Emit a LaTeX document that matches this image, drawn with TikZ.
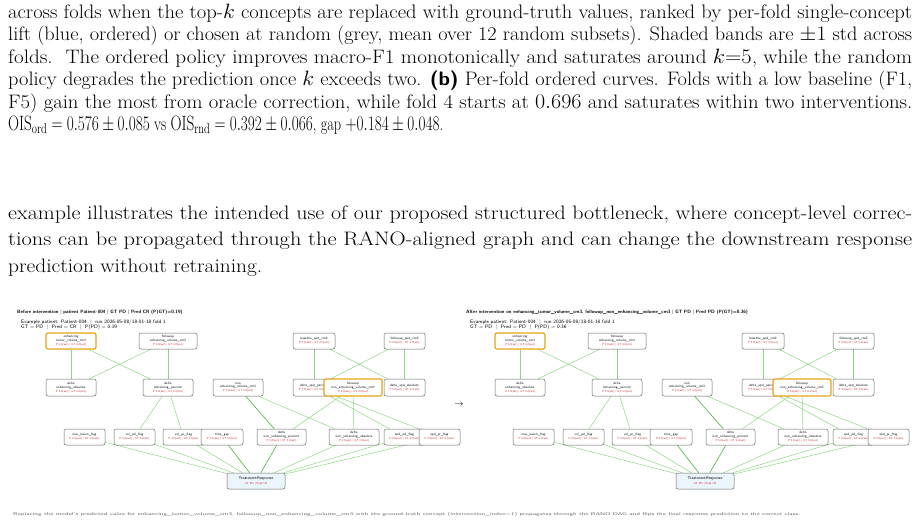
\documentclass[tikz,border=0pt]{standalone}
\usepackage{xcolor,graphicx}
\definecolor{edgeg}{RGB}{140,215,130}
\definecolor{edged}{RGB}{70,180,60}
\definecolor{hl}{RGB}{230,165,20}
\definecolor{valred}{RGB}{200,40,40}
\definecolor{respbg}{RGB}{235,245,252}
\tikzset{
  bodyline/.style={anchor=base west,inner sep=0pt,font=\fontsize{19.5}{21}\selectfont},
  cbox/.style={draw=black!60,rounded corners=2pt,line width=0.5pt,align=center,inner sep=0pt,font=\sffamily\fontsize{3.3}{3.6}\selectfont,fill=white},
  hlbox/.style={cbox,draw=hl,line width=1.2pt},
  resp/.style={cbox,fill=respbg,font=\sffamily\fontsize{4}{4.6}\selectfont},
  eg/.style={draw=edgeg,line width=0.5pt},
  ed/.style={draw=edged,line width=0.6pt},
  ptitle/.style={anchor=west,inner sep=0pt,font=\sffamily\fontsize{4.7}{5}\selectfont\bfseries},
  psub/.style={anchor=north west,inner sep=0pt,align=left,font=\sffamily\fontsize{5}{5}\selectfont}
}
\newcommand\JL[1]{\resizebox{904pt}{\height}{#1}}
\newcommand\Vt{\\[0.6pt]\textcolor{valred}{\fontsize{2.8}{3}\selectfont P 0.0(est) \textbar{} GT 0.0(est)}}
\newcommand\drawpanel{%
  \node[hlbox,minimum width=50pt,minimum height=16pt] (A) at (71,341) {enhancing\\tumor\_volume\_cm3\Vt};
  \node[cbox,minimum width=58pt,minimum height=16pt] (B) at (168,341) {followup\\enhancing\_volume\_cm3\Vt};
  \node[cbox,minimum width=42pt,minimum height=16pt] (C) at (314,341) {baseline\_spd\_cm2\Vt};
  \node[cbox,minimum width=41pt,minimum height=16pt] (D) at (404.5,341) {followup\_spd\_cm2\Vt};
  \node[cbox,minimum width=50pt,minimum height=17pt] (E) at (71,387.5) {delta\\enhancing\_absolute\Vt};
  \node[cbox,minimum width=50pt,minimum height=17pt] (F) at (168,387.5) {delta\\enhancing\_percent\Vt};
  \node[cbox,minimum width=50pt,minimum height=17pt] (G) at (238,387.5) {non\\enhancing\_volume\_cm3\Vt};
  \node[cbox,minimum width=42pt,minimum height=17pt] (H) at (314,387.5) {delta\_spd\_percent\Vt};
  \node[cbox,minimum width=41pt,minimum height=17pt] (J) at (404.5,387.5) {delta\_spd\_absolute\Vt};
  \node[hlbox,minimum width=58pt,minimum height=17pt] (I) at (353,387.5) {followup\\non\_enhancing\_volume\_cm3\Vt};
  \node[cbox,minimum width=41pt,minimum height=16pt] (K) at (84.5,437) {new\_lesion\_flag\Vt};
  \node[cbox,minimum width=41pt,minimum height=16pt] (L) at (134.5,437) {vol\_pd\_flag\Vt};
  \node[cbox,minimum width=41pt,minimum height=16pt] (M) at (183.5,437) {vol\_pr\_flag\Vt};
  \node[cbox,minimum width=42pt,minimum height=16pt] (N) at (222,437) {time\_gap\Vt};
  \node[cbox,minimum width=49pt,minimum height=16pt] (O) at (281.5,437) {delta\\non\_enhancing\_percent\Vt};
  \node[cbox,minimum width=50pt,minimum height=16pt] (P) at (354,437) {delta\\non\_enhancing\_absolute\Vt};
  \node[cbox,minimum width=41pt,minimum height=16pt] (Q) at (404.5,437) {spd\_pd\_flag\Vt};
  \node[cbox,minimum width=41pt,minimum height=16pt] (R) at (439.5,437) {spd\_pr\_flag\Vt};
  \node[resp,minimum width=58pt,minimum height=16pt] (S) at (256,481) {TreatmentResponse\\[0.6pt]\textcolor{valred}{\fontsize{2.8}{3}\selectfont GT PD \textbar{} Pred CR}};
  \begin{scope}[on background layer]
  \draw[eg] (A) -- (E); \draw[eg] (A) -- (F); \draw[eg] (B) -- (E); \draw[eg] (B) -- (F);
  \draw[eg] (C) -- (H); \draw[eg] (C) -- (J); \draw[eg] (D) -- (J); \draw[eg] (D) -- (H);
  \draw[eg] (F) -- (L); \draw[eg] (F) -- (M); \draw[ed] (G) -- (O); \draw[eg] (G) -- (P);
  \draw[eg] (I) -- (O); \draw[eg] (I) -- (P); \draw[eg] (H) -- (Q); \draw[eg] (H) -- (R);
  \foreach \n in {K,L,M,P,Q,R} {\draw[eg] (\n) -- (S);}
  \draw[ed] (N) -- (S); \draw[ed] (O) -- (S);
  \end{scope}
}
\usetikzlibrary{backgrounds}
\begin{document}
\begin{tikzpicture}[x=1pt,y=-1pt]
\useasboundingbox (0,0) rectangle (919,523);
\node[bodyline] (t1) at (8,18) {\JL{across folds when the top-$k$ concepts are replaced with ground-truth values, ranked by per-fold single-concept}};
\node[bodyline] (t2) at (8,40.5) {\JL{lift (blue, ordered) or chosen at random (grey, mean over 12 random subsets). Shaded bands are $\pm1$ std across}};
\node[bodyline] (t3) at (8,63) {\JL{folds.\ \ The ordered policy improves macro-F1 monotonically and saturates around $k{=}5$, while the random}};
\node[bodyline] (t4) at (8,85.5) {\JL{policy degrades the prediction once $k$ exceeds two. \textsf{\textbf{(b)}} Per-fold ordered curves. Folds with a low baseline (F1,}};
\node[bodyline] (t5) at (8,108) {\JL{F5) gain the most from oracle correction, while fold 4 starts at $0.696$ and saturates within two interventions.}};
\node[bodyline] (t6) at (8,130.5) {\resizebox{435pt}{\height}{$\mathrm{OIS}_{\mathrm{ord}} = 0.576 \pm 0.085$ vs $\mathrm{OIS}_{\mathrm{rnd}} = 0.392\pm0.066$, gap $+0.184\pm0.048$.}};
\node[bodyline] (u1) at (8,219) {\JL{example illustrates the intended use of our proposed structured bottleneck, where concept-level correc-}};
\node[bodyline] (u2) at (8,245.5) {\JL{tions can be propagated through the RANO-aligned graph and can change the downstream response}};
\node[bodyline] (u3) at (8,272) {\resizebox{254pt}{\height}{prediction without retraining.}};
\node[ptitle] (lt) at (17,312) {Before intervention | patient Patient-004 | GT PD | Pred CR (P(GT)=0.19)};
\node[psub] (ls) at (21,320) {Example patient: Patient-004 \ | \ run 2026-05-08/18-01-18 fold 1\\GT = PD \ | \ Pred = CR \ | \ P(PD) = 0.19};
\begin{scope}[name prefix=L-]\drawpanel\end{scope}
\node[font=\fontsize{9}{10}\selectfont,inner sep=0pt] (arr) at (459,405) {$\rightarrow$};
\node[ptitle] (rt) at (466,312) {After intervention on enhancing\_tumor\_volume\_cm3, followup\_non\_enhancing\_volume\_cm3 | GT PD | Pred PD (P(GT)=0.36)};
\node[psub] (rs) at (470,320) {Example patient: Patient-004 \ | \ run 2026-05-08/18-01-18 fold 1\\GT = PD \ | \ Pred = PD \ | \ P(PD) = 0.36};
\begin{scope}[xshift=449pt,name prefix=R-]\drawpanel\end{scope}
\node[anchor=west,inner sep=0pt,text=black!60,font=\sffamily\fontsize{4}{4}\selectfont] (cap) at (13,514) {\resizebox{787pt}{\height}{Replacing the model's predicted value for enhancing\_tumor\_volume\_cm3, followup\_non\_enhancing\_volume\_cm3 with the ground-truth concept (intervention\_index=1) propagates through the RANO DAG and flips the final response prediction to the correct class.}};
\end{tikzpicture}
\end{document}
